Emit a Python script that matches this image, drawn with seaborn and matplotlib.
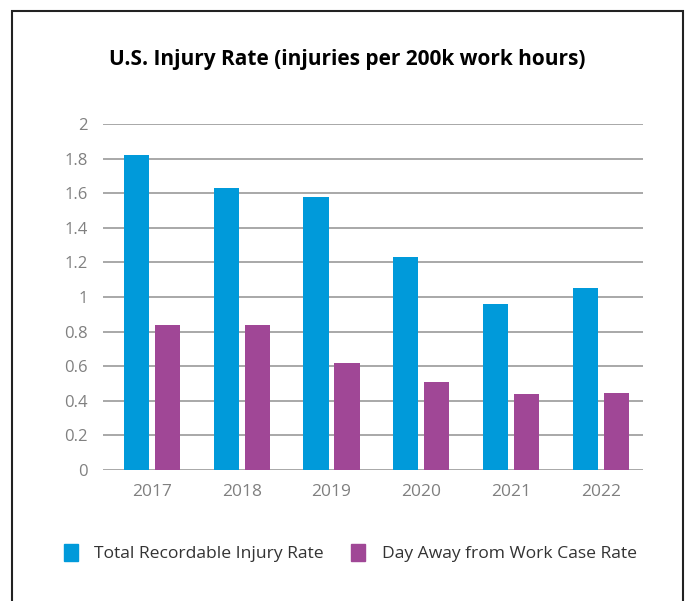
import pandas as pd
import matplotlib.pyplot as plt
import seaborn as sns
from matplotlib.patches import Rectangle

sns.set_theme(style="white")
plt.rcParams["font.family"] = ["Open Sans", "DejaVu Sans"]

years = ["2017", "2018", "2019", "2020", "2021", "2022"]
total_rate = [1.82, 1.63, 1.58, 1.23, 0.96, 1.05]
days_away = [0.84, 0.84, 0.62, 0.51, 0.44, 0.445]
series = ["Total Recordable Injury Rate", "Day Away from Work Case Rate"]

df = pd.DataFrame({
    "year": years * 2,
    "rate": total_rate + days_away,
    "serie": [series[0]] * len(years) + [series[1]] * len(years),
})

palette = {series[0]: "#009ADA", series[1]: "#A04796"}

fig = plt.figure(figsize=(6.89, 6.01), dpi=100)
ax = fig.add_axes([103 / 689, 1 - 470 / 601, 540 / 689, 346 / 601])

sns.barplot(
    data=df, x="year", y="rate", hue="serie", palette=palette,
    width=0.69, gap=0.19, saturation=1, linewidth=0, ax=ax,
    legend=False, zorder=3
)

ax.set_ylim(0, 2)
ax.set_xlim(-0.545, 5.47)
ax.set_yticks([0, 0.2, 0.4, 0.6, 0.8, 1, 1.2, 1.4, 1.6, 1.8, 2])
ax.set_yticklabels(["0", "0.2", "0.4", "0.6", "0.8", "1", "1.2", "1.4", "1.6", "1.8", "2"])
ax.yaxis.grid(True, color="#999999", linewidth=1.2, zorder=0)
ax.set_axisbelow(True)
for s in ax.spines.values():
    s.set_visible(False)
ax.tick_params(axis="y", length=0, pad=11, labelsize=12, labelcolor="#808080")
ax.tick_params(axis="x", length=0, pad=10, labelsize=12.5, labelcolor="#808080")
ax.set_xlabel("")
ax.set_ylabel("")

fig.text(0.504, 1 - 60 / 601, "U.S. Injury Rate (injuries per 200k work hours)",
         ha="center", va="center", fontsize=15, fontweight="bold", color="black")

handles = [Rectangle((0, 0), 1, 1, color=palette[s]) for s in series]
fig.legend(handles, series, loc="center", bbox_to_anchor=(0.508, 1 - 553 / 601),
           ncol=2, frameon=False, fontsize=12.6, handlelength=0.8, handleheight=1.1,
           handletextpad=0.95, columnspacing=1.55, labelcolor="#333333")

fig.add_artist(Rectangle((11.5 / 689, -0.05), 671 / 689, 1 - 11.5 / 601 + 0.05,
                         transform=fig.transFigure, fill=False,
                         edgecolor="#222222", linewidth=1.5))

fig.savefig("out.png", dpi=100)
